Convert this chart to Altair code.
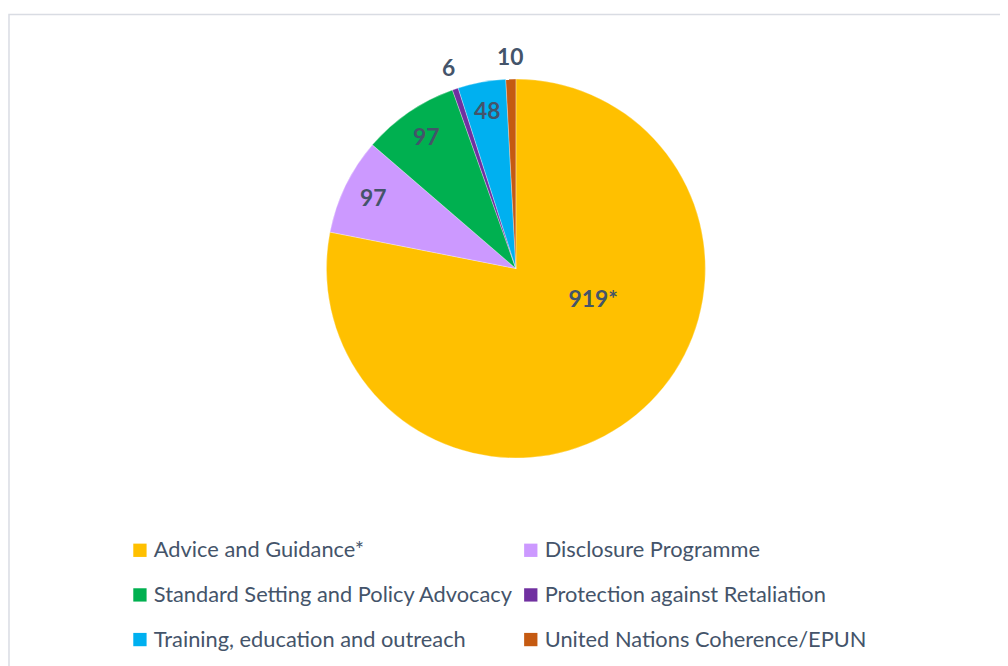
import altair as alt
import pandas as pd

categories = [
    "Advice and Guidance*",
    "Disclosure Programme",
    "Standard Setting and Policy Advocacy",
    "Protection against Retaliation",
    "Training, education and outreach",
    "United Nations Coherence/EPUN",
]
values = [919, 97, 97, 6, 48, 10]
labels = ["919*", "97", "97", "6", "48", "10"]
colors = ["#FFC000", "#CC99FF", "#00B050", "#7030A0", "#00B0F0", "#C55A11"]

df = pd.DataFrame({
    "category": categories,
    "value": values,
    "label": labels,
    "order": list(range(len(categories))),
})

CX, CY, R = 512, 260, 191
TEXT = "#44546A"

pie = alt.Chart(df).mark_arc(radius=R, stroke="white", strokeWidth=0.3).encode(
    theta=alt.Theta("value:Q", stack=True),
    order=alt.Order("order:Q"),
    x=alt.value(CX), y=alt.value(CY),
    color=alt.Color(
        "category:N",
        scale=alt.Scale(domain=categories, range=colors),
        sort=categories,
        legend=alt.Legend(
            title=None, orient="none", legendX=122, legendY=533,
            columns=2, direction="horizontal",
            symbolType="square", symbolSize=180, symbolStrokeWidth=0,
            labelFont="Lato", labelFontSize=22, labelColor=TEXT,
            labelOffset=3, rowPadding=23, columnPadding=6, labelLimit=600,
        ),
    ),
)

text_style = dict(font="Lato", fontWeight="bold", fontSize=23, color=TEXT,
                  align="center", baseline="middle")

label_base = alt.Chart(df).transform_joinaggregate(
    total="sum(value)"
).transform_window(
    cum="sum(value)", sort=[alt.SortField("order")], frame=[None, 0]
).transform_calculate(
    mid="(datum.cum - datum.value / 2) / datum.total * 2 * PI",
    lr="datum.value < 20 ? 212 : (datum.value > 500 ? 69 : 160)",
).transform_calculate(
    px=f"{CX} + datum.lr * sin(datum.mid)",
    py=f"{CY} - datum.lr * cos(datum.mid)",
).encode(
    x=alt.X("px:Q", scale=None, axis=None),
    y=alt.Y("py:Q", scale=None, axis=None),
    text="label:N",
)

small_labels = label_base.transform_filter("datum.value < 500").mark_text(**text_style)
big_label = label_base.transform_filter("datum.value >= 500").mark_text(dx=34, dy=-22, **text_style)

frame = alt.Chart(df.head(1)).mark_rect(filled=False, stroke="#D9DCE3", strokeWidth=1.5).encode(
    x=alt.value(1), x2=alt.value(1010), y=alt.value(4), y2=alt.value(670)
)

chart = alt.layer(frame, pie, small_labels, big_label).properties(
    width=1000, height=658, padding=0,
    autosize=alt.AutoSizeParams(type="none"),
).configure_view(stroke=None)

chart.save("out.html", embed_options={"renderer": "svg", "actions": False})
